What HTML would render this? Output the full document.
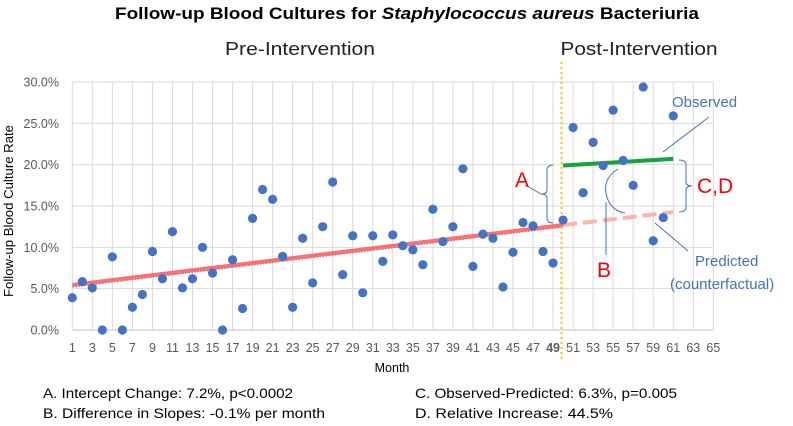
<!DOCTYPE html>
<html><head><meta charset="utf-8"><style>
body{margin:0;background:#fff}
svg{display:block;font-family:"Liberation Sans Narrow","Liberation Sans",sans-serif}
</style></head><body>
<svg id="chart" width="793" height="426" viewBox="0 0 793 426" xmlns="http://www.w3.org/2000/svg">
<text x="407" y="19" text-anchor="middle" font-size="17" font-weight="bold" fill="#000" textLength="584" lengthAdjust="spacingAndGlyphs">Follow-up Blood Cultures for <tspan font-style="italic">Staphylococcus aureus</tspan> Bacteriuria</text>
<text x="300" y="55" text-anchor="middle" font-size="18" fill="#222" textLength="150" lengthAdjust="spacingAndGlyphs">Pre-Intervention</text>
<text x="639" y="55" text-anchor="middle" font-size="18" fill="#222" textLength="157" lengthAdjust="spacingAndGlyphs">Post-Intervention</text>
<text transform="translate(13,211) rotate(-90)" text-anchor="middle" font-size="12.5" fill="#000" textLength="172" lengthAdjust="spacingAndGlyphs">Follow-up Blood Culture Rate</text>
<text x="392" y="372" text-anchor="middle" font-size="12.5" fill="#000">Month</text>
<g id="grid"></g>
<g id="trend"></g>
<g id="points"></g>
<g id="annot" fill="none" stroke="#4472c4" stroke-width="1">
  <path d="M553,165 Q547,165 547,170 L547,190 Q547,194 541,194 Q547,194 547,198 L547,218 Q547,223 553,223"/>
  <line x1="525" y1="185" x2="541" y2="194"/>
  <path d="M679,160 Q686,160 686,165 L686,182 Q686,186 692,186 Q686,186 686,190 L686,207 Q686,212 679,212"/>
  <path d="M618,169 Q600,180 608,200 Q613,211 625,213"/>
  <line x1="606" y1="202" x2="606" y2="255"/>
  <line x1="709" y1="117" x2="663" y2="152"/>
  <line x1="655" y1="223" x2="688" y2="251"/>
</g>
<text x="522" y="187" text-anchor="middle" font-size="21" fill="#ff0000">A</text>
<text x="604" y="277" text-anchor="middle" font-size="21" fill="#ff0000">B</text>
<text x="697" y="193" font-size="21" fill="#ff0000">C,D</text>
<text x="672" y="107" font-size="15" fill="#4472c4">Observed</text>
<text x="695" y="266" font-size="15" fill="#4472c4">Predicted</text>
<text x="670" y="289" font-size="15" fill="#4472c4">(counterfactual)</text>
<g font-size="14" fill="#000">
<text x="43" y="398" textLength="250" lengthAdjust="spacingAndGlyphs">A. Intercept Change: 7.2%, p&lt;0.0002</text>
<text x="43" y="418" textLength="282" lengthAdjust="spacingAndGlyphs">B. Difference in Slopes: -0.1% per month</text>
<text x="415" y="398" textLength="262" lengthAdjust="spacingAndGlyphs">C. Observed-Predicted: 6.3%, p=0.005</text>
<text x="415" y="418" textLength="198" lengthAdjust="spacingAndGlyphs">D. Relative Increase: 44.5%</text>
</g>
</svg>
<script>
const months = [1,2,3,4,5,6,7,8,9,10,11,12,13,14,15,16,17,18,19,20,21,22,23,24,25,26,27,28,29,30,31,32,33,34,35,36,37,38,39,40,41,42,43,44,45,46,47,48,49,50,51,52,53,54,55,56,57,58,59,60,61];
const rates = [3.9,5.85,5.1,0,8.85,0,2.75,4.3,9.5,6.2,11.9,5.1,6.2,10.0,6.9,0,8.5,2.6,13.5,17.0,15.8,8.9,2.75,11.1,5.7,12.5,17.9,6.7,11.4,4.5,11.4,8.3,11.5,10.2,9.7,7.9,14.6,10.7,12.5,19.5,7.7,11.6,11.1,5.2,9.4,13.0,12.6,9.5,8.1,13.3,24.5,16.6,22.7,19.9,26.6,20.5,17.5,29.4,10.8,13.6,25.9];
const yTicks = [0,5,10,15,20,25,30];
const xTicks = [1,3,5,7,9,11,13,15,17,19,21,23,25,27,29,31,33,35,37,39,41,43,45,47,49,51,53,55,57,59,61,63,65];
const preTrend = [[1,5.45],[50,12.7]];
const observedTrend = [[50,19.9],[61,20.7]];
const predictedTrend = [[50,12.7],[61,14.25]];
const interventionMonth = 49.85;

const NS='http://www.w3.org/2000/svg';
const X = m => 72.3 + (m-1)*(641/64);
const Y = v => 330 - v*(248/30);
function mk(tag, attrs, parent){const e=document.createElementNS(NS,tag);for(const k in attrs)e.setAttribute(k,attrs[k]);parent.appendChild(e);return e;}
const grid=document.getElementById('grid');
yTicks.forEach(t=>{
  const l=mk('line',{x1:X(1),x2:X(65),y1:Y(t),y2:Y(t),stroke:t===0?'#bfbfbf':'#d9d9d9','stroke-width':1},grid);
  
  
  const tx=mk('text',{x:59,y:Y(t)+4.5,'text-anchor':'end','font-size':12.5,fill:'#595959'},grid);
  tx.textContent=t.toFixed(1)+'%';
  
  
});
xTicks.forEach(t=>{
  const l=mk('line',{x1:X(t),x2:X(t),y1:Y(30),y2:Y(0),stroke:'#d9d9d9','stroke-width':1},grid);
  
  
  const tx=mk('text',{x:X(t),y:352,'text-anchor':'middle','font-size':12.5,fill:'#595959'},grid);
  if(t===49){tx.setAttribute('font-weight','bold');}
  tx.textContent=t;
  
  
});
const trend=document.getElementById('trend');
function seg(arr,attrs,name){const l=mk('line',Object.assign({x1:X(arr[0][0]),y1:Y(arr[0][1]),x2:X(arr[1][0]),y2:Y(arr[1][1])},attrs),trend);
  
  }
seg([[1,preTrend[0][1]-0.25],[50,preTrend[1][1]-0.25]],{stroke:'#4472c4','stroke-width':1,'stroke-dasharray':'1.5 1.5'},'linear-fit-dotted');
seg(preTrend,{stroke:'#ff6f6f','stroke-width':4},'pre-trend-line');
seg(predictedTrend,{stroke:'#ffb3ad','stroke-width':4,'stroke-dasharray':'14 6'},'predicted-trend-line');
seg(observedTrend,{stroke:'#14a33c','stroke-width':4},'observed-trend-line');
const vl=mk('line',{x1:X(interventionMonth),x2:X(interventionMonth),y1:62,y2:360,stroke:'#ffc000','stroke-width':2,'stroke-dasharray':'2 3'},trend);


const pts=document.getElementById('points');
months.forEach((m,i)=>{
  const c=mk('circle',{cx:X(m),cy:Y(rates[i]),r:4.6,fill:'#4472c4'},pts);
  
  
});
</script>
</body></html>
